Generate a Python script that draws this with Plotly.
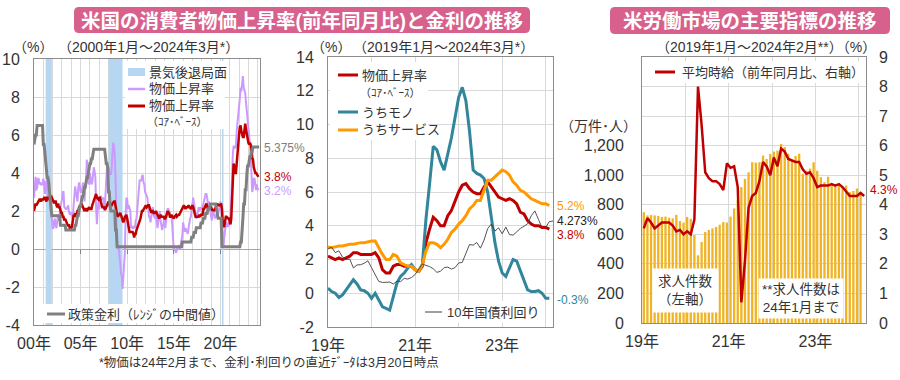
import plotly.graph_objects as go

# ------------------------------------------------------------------ data
# Panel 1: monthly, 2000-01 .. 2024-02 (YoY %)
cpi_headline = [
    2.7, 3.2, 3.8, 3.1, 3.2, 3.7, 3.7, 3.4, 3.5, 3.4, 3.4, 3.4,
    3.7, 3.5, 2.9, 3.3, 3.6, 3.2, 2.7, 2.7, 2.6, 2.1, 1.9, 1.6,
    1.1, 1.1, 1.5, 1.6, 1.2, 1.1, 1.5, 1.8, 1.5, 2.0, 2.2, 2.4,
    2.6, 3.0, 3.0, 2.2, 2.1, 2.1, 2.1, 2.2, 2.3, 2.0, 1.8, 1.9,
    1.9, 1.7, 1.7, 2.3, 3.1, 3.3, 3.0, 2.7, 2.5, 3.2, 3.5, 3.3,
    3.0, 3.0, 3.1, 3.5, 2.8, 2.5, 3.2, 3.6, 4.7, 4.3, 3.5, 3.4,
    4.0, 3.6, 3.4, 3.5, 4.2, 4.3, 4.1, 3.8, 2.1, 1.3, 2.0, 2.5,
    2.1, 2.4, 2.8, 2.6, 2.7, 2.7, 2.4, 2.0, 2.8, 3.5, 4.3, 4.1,
    4.3, 4.0, 4.0, 3.9, 4.2, 5.0, 5.6, 5.4, 4.9, 3.7, 1.1, 0.1,
    0.0, 0.2, -0.4, -0.7, -1.3, -1.4, -2.1, -1.5, -1.3, -0.2, 1.8, 2.7,
    2.6, 2.1, 2.3, 2.2, 2.0, 1.1, 1.2, 1.1, 1.1, 1.2, 1.1, 1.5,
    1.6, 2.1, 2.7, 3.2, 3.6, 3.6, 3.6, 3.8, 3.9, 3.5, 3.4, 3.0,
    2.9, 2.9, 2.7, 2.3, 1.7, 1.7, 1.4, 1.7, 2.0, 2.2, 1.8, 1.7,
    1.6, 2.0, 1.5, 1.1, 1.4, 1.8, 2.0, 1.5, 1.2, 1.0, 1.2, 1.5,
    1.6, 1.1, 1.5, 2.0, 2.1, 2.1, 2.0, 1.7, 1.7, 1.7, 1.3, 0.8,
    -0.1, 0.0, -0.1, -0.2, 0.0, 0.1, 0.2, 0.2, 0.0, 0.2, 0.5, 0.7,
    1.4, 1.0, 0.9, 1.1, 1.0, 1.0, 0.8, 1.1, 1.5, 1.6, 1.7, 2.1,
    2.5, 2.7, 2.4, 2.2, 1.9, 1.6, 1.7, 1.9, 2.2, 2.0, 2.2, 2.1,
    2.1, 2.2, 2.4, 2.5, 2.8, 2.9, 2.9, 2.7, 2.3, 2.5, 2.2, 1.9,
    1.6, 1.5, 1.9, 2.0, 1.8, 1.6, 1.8, 1.7, 1.7, 1.8, 2.1, 2.3,
    2.5, 2.3, 1.5, 0.3, 0.1, 0.6, 1.0, 1.3, 1.4, 1.2, 1.2, 1.4,
    1.4, 1.7, 2.6, 4.2, 5.0, 5.4, 5.4, 5.3, 5.4, 6.2, 6.8, 7.0,
    7.5, 7.9, 8.5, 8.3, 8.6, 9.1, 8.5, 8.3, 8.2, 7.7, 7.1, 6.5,
    6.4, 6.0, 5.0, 4.9, 4.0, 3.0, 3.2, 3.7, 3.7, 3.2, 3.1, 3.4,
    3.1, 3.2,
]
cpi_core = [
    2.0, 2.2, 2.4, 2.3, 2.4, 2.5, 2.5, 2.6, 2.6, 2.5, 2.6, 2.6,
    2.6, 2.7, 2.7, 2.6, 2.5, 2.7, 2.7, 2.7, 2.6, 2.6, 2.8, 2.7,
    2.6, 2.6, 2.4, 2.5, 2.5, 2.3, 2.2, 2.4, 2.2, 2.2, 2.0, 1.9,
    1.9, 1.7, 1.7, 1.5, 1.6, 1.5, 1.5, 1.3, 1.2, 1.3, 1.1, 1.1,
    1.1, 1.2, 1.6, 1.8, 1.7, 1.9, 1.8, 1.7, 2.0, 2.0, 2.2, 2.2,
    2.3, 2.4, 2.3, 2.2, 2.2, 2.0, 2.1, 2.1, 2.0, 2.1, 2.1, 2.2,
    2.1, 2.1, 2.1, 2.3, 2.4, 2.6, 2.7, 2.8, 2.9, 2.7, 2.6, 2.6,
    2.7, 2.7, 2.5, 2.3, 2.2, 2.2, 2.2, 2.1, 2.1, 2.2, 2.3, 2.4,
    2.5, 2.3, 2.4, 2.3, 2.3, 2.4, 2.5, 2.5, 2.5, 2.2, 2.0, 1.8,
    1.7, 1.8, 1.8, 1.9, 1.8, 1.7, 1.5, 1.4, 1.5, 1.7, 1.7, 1.8,
    1.6, 1.3, 1.1, 0.9, 0.9, 0.9, 0.9, 0.9, 0.8, 0.6, 0.8, 0.8,
    1.0, 1.1, 1.2, 1.3, 1.5, 1.6, 1.8, 2.0, 2.0, 2.1, 2.2, 2.2,
    2.3, 2.2, 2.3, 2.3, 2.3, 2.2, 2.1, 1.9, 2.0, 2.0, 1.9, 1.9,
    1.9, 2.0, 1.9, 1.7, 1.7, 1.6, 1.7, 1.8, 1.7, 1.7, 1.7, 1.7,
    1.6, 1.6, 1.7, 1.8, 2.0, 1.9, 1.9, 1.7, 1.7, 1.8, 1.7, 1.6,
    1.6, 1.7, 1.8, 1.8, 1.7, 1.8, 1.8, 1.8, 1.9, 1.9, 2.0, 2.1,
    2.2, 2.3, 2.2, 2.1, 2.2, 2.2, 2.2, 2.3, 2.2, 2.1, 2.1, 2.2,
    2.3, 2.2, 2.0, 1.9, 1.7, 1.7, 1.7, 1.7, 1.7, 1.8, 1.7, 1.8,
    1.8, 1.8, 2.1, 2.1, 2.2, 2.3, 2.4, 2.2, 2.2, 2.1, 2.2, 2.2,
    2.2, 2.1, 2.0, 2.1, 2.0, 2.1, 2.2, 2.4, 2.4, 2.3, 2.3, 2.3,
    2.3, 2.4, 2.1, 1.4, 1.2, 1.2, 1.6, 1.7, 1.7, 1.6, 1.6, 1.6,
    1.4, 1.3, 1.6, 3.0, 3.8, 4.5, 4.3, 4.0, 4.0, 4.6, 4.9, 5.5,
    6.0, 6.4, 6.5, 6.2, 6.0, 5.9, 5.9, 6.3, 6.6, 6.3, 6.0, 5.7,
    5.6, 5.5, 5.6, 5.5, 5.3, 4.8, 4.7, 4.3, 4.1, 4.0, 4.0, 3.9,
    3.9, 3.8,
]
# policy rate (mid-point of target range), vertices of the monthly series
policy_months = [
    "2000-01", "2000-02", "2000-03", "2000-04", "2000-05", "2000-12", "2001-01", "2001-02",
    "2001-03", "2001-04", "2001-05", "2001-06", "2001-07", "2001-08", "2001-09", "2001-10",
    "2001-11", "2001-12", "2002-10", "2002-11", "2003-05", "2003-06", "2004-05", "2004-06",
    "2004-07", "2004-08", "2004-09", "2004-10", "2004-11", "2004-12", "2005-01", "2005-02",
    "2005-03", "2005-04", "2005-05", "2005-06", "2005-07", "2005-08", "2005-09", "2005-10",
    "2005-11", "2005-12", "2006-01", "2006-02", "2006-03", "2006-04", "2006-05", "2006-06",
    "2007-08", "2007-09", "2007-10", "2007-11", "2007-12", "2008-01", "2008-02", "2008-03",
    "2008-04", "2008-09", "2008-10", "2008-11", "2008-12", "2015-11", "2015-12", "2016-11",
    "2016-12", "2017-02", "2017-03", "2017-05", "2017-06", "2017-11", "2017-12", "2018-02",
    "2018-03", "2018-05", "2018-06", "2018-08", "2018-09", "2018-11", "2018-12", "2019-07",
    "2019-08", "2019-09", "2019-10", "2020-02", "2020-03", "2022-02", "2022-03", "2022-04",
    "2022-05", "2022-06", "2022-07", "2022-08", "2022-09", "2022-10", "2022-11", "2022-12",
    "2023-01", "2023-02", "2023-03", "2023-04", "2023-05", "2023-06", "2023-07", "2024-03",
]
policy_rate = [
    5.5, 5.75, 6.0, 6.0, 6.5, 6.5, 5.5, 5.5,
    5.0, 4.5, 4.0, 3.75, 3.75, 3.5, 3.0, 2.5,
    2.0, 1.75, 1.75, 1.25, 1.25, 1.0, 1.0, 1.25,
    1.25, 1.5, 1.75, 1.75, 2.0, 2.25, 2.25, 2.5,
    2.75, 2.75, 3.0, 3.25, 3.25, 3.5, 3.75, 3.75,
    4.0, 4.25, 4.5, 4.5, 4.75, 4.75, 5.0, 5.25,
    5.25, 4.75, 4.5, 4.5, 4.25, 3.0, 3.0, 2.25,
    2.0, 2.0, 1.0, 1.0, 0.125, 0.125, 0.375, 0.375,
    0.625, 0.625, 0.875, 0.875, 1.125, 1.125, 1.375, 1.375,
    1.625, 1.625, 1.875, 1.875, 2.125, 2.125, 2.375, 2.375,
    2.125, 1.875, 1.625, 1.625, 0.125, 0.125, 0.375, 0.375,
    0.875, 1.625, 2.375, 2.375, 3.125, 3.125, 3.875, 4.375,
    4.375, 4.625, 4.875, 4.875, 5.125, 5.125, 5.375, 5.375,
]
recession_start = ["2001-04", "2008-01", "2020-03"]
recession_end = ["2001-11", "2009-06", "2020-04"]

# Panel 2: monthly, 2019-01 .. 2024-02 (yield to 2024-03)
goods = [
    0.3, 0.1, 0.0, -0.25, -0.1, 0.2, 0.5, 0.8, 0.55, 0.2, 0.15, 0.0,
    -0.3, 0.0, -0.4, -0.8, -0.9, -1.0, -0.2, 0.6, 1.0, 1.2, 1.5, 1.7,
    1.4, 1.3, 1.7, 4.4, 6.5, 8.7, 8.5, 7.8, 7.3, 8.2, 9.2, 10.4,
    11.6, 12.2, 11.4, 9.6, 7.3, 7.1, 7.0, 6.8, 6.0, 4.5, 3.0, 1.9,
    1.2, 1.0, 1.5, 2.0, 1.9, 1.3, 0.7, 0.2, 0.1, 0.1, 0.15, 0.0,
    -0.3, -0.3,
]
services = [
    2.75, 2.7, 2.75, 2.8, 2.8, 2.85, 2.9, 2.9, 2.95, 3.0, 3.0, 3.05,
    3.1, 3.1, 2.7, 2.3, 2.0, 2.0, 2.3, 2.2, 1.8, 1.7, 1.6, 1.6,
    1.4, 1.3, 1.7, 2.5, 3.0, 3.0, 2.9, 2.7, 2.9, 3.2, 3.6, 3.8,
    4.1, 4.3, 4.6, 5.0, 5.2, 5.5, 5.5, 6.1, 6.7, 6.7, 6.9, 7.1,
    7.3, 7.2, 7.0, 6.6, 6.4, 6.1, 6.0, 5.8, 5.6, 5.5, 5.4, 5.3,
    5.3, 5.2,
]
yield10 = [
    2.63, 2.73, 2.41, 2.51, 2.14, 2.00, 2.02, 1.50, 1.68, 1.69, 1.78, 1.92,
    1.51, 1.13, 0.70, 0.64, 0.65, 0.66, 0.55, 0.72, 0.69, 0.88, 0.84, 0.93,
    1.11, 1.44, 1.74, 1.65, 1.58, 1.45, 1.24, 1.30, 1.52, 1.55, 1.43, 1.52,
    1.79, 1.83, 2.32, 2.89, 2.85, 3.01, 2.67, 3.15, 3.83, 4.10, 3.68, 3.88,
    3.52, 3.92, 3.48, 3.44, 3.64, 3.84, 3.97, 4.11, 4.59, 4.88, 4.37, 3.88,
    3.91, 4.25, 4.273,
]

# Panel 3: job openings (10k), 2019-01 .. 2024-01 ; hourly earnings YoY %, 2019-01 .. 2024-02
openings = [
    750, 728, 730, 728, 725, 718, 720, 712, 708, 732, 690, 680,
    718, 705, 595, 458, 548, 616, 630, 640, 650, 665, 683, 680,
    720, 775, 830, 920, 975, 1020, 1088, 1085, 1088, 1133, 1110, 1144,
    1160, 1167, 1212, 1190, 1145, 1100, 1130, 1145, 1010, 1030, 1045, 1088,
    1030, 987, 953, 990, 942, 920, 930, 920, 930, 886, 893, 910,
    886,
]
hourly_wage = [
    3.2, 3.55, 3.4, 3.2, 3.3, 3.4, 3.4, 3.4, 3.3, 3.1, 3.15, 3.0,
    3.1, 3.0, 3.5, 8.0, 6.7, 5.1, 4.9, 4.8, 4.8, 4.7, 4.5, 5.4,
    5.25, 5.3, 4.6, 0.7, 2.1, 3.9, 4.3, 4.4, 4.8, 5.45, 5.3, 5.0,
    5.6, 5.3, 5.9, 5.8, 5.55, 5.5, 5.45, 5.45, 5.2, 5.05, 5.1, 4.9,
    4.6, 4.65, 4.65, 4.65, 4.7, 4.65, 4.7, 4.6, 4.45, 4.3, 4.3, 4.3,
    4.4, 4.3,
]

# tick labels
p1_years = list(range(2000, 2025))
p1_ticktext = [("%02d年" % (y % 100)) if y % 5 == 0 else "" for y in p1_years]
p23_years = list(range(2019, 2025))
p23_ticktext = [("%02d年" % (y % 100)) if y % 2 == 1 else "" for y in p23_years]

# ------------------------------------------------------------------ style
W, H = 900, 380
FONT = "Liberation Sans, Arial, Noto Sans CJK JP, sans-serif"
TXT = "#333333"
GRID = "#D9D9D9"
FRAME = "#8C8C8C"
LAV = "#CC99FF"
RED = "#C00000"
GRAY = "#808080"
SHADE = "#B7D6F1"
TEAL = "#31869B"
ORANGE = "#FF9900"
THIN = "#404040"
GOLD = "#F0B323"
PINK = "#D8608C"


def px_x(px):
    return px / W


def px_y(py):
    return 1 - py / H


def ym(s):
    y, m = s.split("-")
    return int(y) + (int(m) - 1) / 12


P1_YR = [-4, 10]
P2_YR = [-2, 14]
P3_YL = [0, 1800]
P3_YR = [0, 9]
P1_XR = [2000, 2000 + len(cpi_headline) / 12 + 1 / 12]
P2_XR = [2019, 2019 + (len(yield10) - 1) / 12]
P3_XR = [2019, 2019 + (len(yield10) - 1) / 12]

fig = go.Figure()

# ------------------------------------------------------------------ panel 1
x1 = [2000 + i / 12 for i in range(len(cpi_headline))]
rx0 = [ym(s) for s in recession_start]
rx1 = [ym(s) + 1 / 12 for s in recession_end]
fig.add_trace(go.Bar(
    x=[(a + b) / 2 for a, b in zip(rx0, rx1)],
    y=[P1_YR[1] - P1_YR[0]] * len(rx0), base=P1_YR[0],
    width=[b - a for a, b in zip(rx0, rx1)], name="景気後退局面",
    marker=dict(color=SHADE, line=dict(width=0)),
    xaxis="x", yaxis="y", showlegend=False, hoverinfo="skip"))
fig.add_trace(go.Scatter(x=x1, y=cpi_headline, mode="lines", name="物価上昇率",
                         line=dict(color=LAV, width=2), xaxis="x", yaxis="y", showlegend=False))
fig.add_trace(go.Scatter(x=x1, y=cpi_core, mode="lines", name="物価上昇率（ｺｱ･ﾍﾞｰｽ）",
                         line=dict(color=RED, width=2.5), xaxis="x", yaxis="y", showlegend=False))
fig.add_trace(go.Scatter(x=[ym(s) for s in policy_months], y=policy_rate, mode="lines",
                         name="政策金利（ﾚﾝｼﾞの中間値）",
                         line=dict(color=GRAY, width=3), xaxis="x", yaxis="y", showlegend=False))
# invisible anchor for the zero-line axis with small ticks
fig.add_trace(go.Scatter(x=[x1[0]], y=[0], mode="markers", marker=dict(opacity=0),
                         xaxis="x6", yaxis="y", showlegend=False, hoverinfo="skip"))

# ------------------------------------------------------------------ panel 2
x2 = [2019 + i / 12 for i in range(len(goods))]
x2y = [2019 + i / 12 for i in range(len(yield10))]
i2019 = (2019 - 2000) * 12
core_p2 = cpi_core[i2019:]
fig.add_trace(go.Scatter(x=x2, y=core_p2, mode="lines", name="物価上昇率（ｺｱ･ﾍﾞｰｽ）",
                         line=dict(color=RED, width=3), xaxis="x2", yaxis="y2", showlegend=False))
fig.add_trace(go.Scatter(x=x2, y=goods, mode="lines", name="うちモノ",
                         line=dict(color=TEAL, width=3), xaxis="x2", yaxis="y2", showlegend=False))
fig.add_trace(go.Scatter(x=x2, y=services, mode="lines", name="うちサービス",
                         line=dict(color=ORANGE, width=3), xaxis="x2", yaxis="y2", showlegend=False))
fig.add_trace(go.Scatter(x=x2y, y=yield10, mode="lines", name="10年国債利回り",
                         line=dict(color=THIN, width=0.9), xaxis="x2", yaxis="y2", showlegend=False))

# ------------------------------------------------------------------ panel 3
x3b = [2019 + (i + 0.5) / 12 for i in range(len(openings))]
x3l = [2019 + (i + 0.5) / 12 for i in range(len(hourly_wage))]
fig.add_trace(go.Bar(x=x3b, y=openings, width=0.64 / 12, marker=dict(color=GOLD, line=dict(width=0)),
                     xaxis="x3", yaxis="y3", showlegend=False, name="求人件数"))
fig.add_trace(go.Scatter(x=x3l, y=hourly_wage, mode="lines", name="平均時給（前年同月比、右軸）",
                         line=dict(color=RED, width=2.5), xaxis="x3", yaxis="y4", showlegend=False))

# ------------------------------------------------------------------ axes
tickfont = dict(family=FONT, size=16, color=TXT)
common_x = dict(showline=True, mirror=True, linecolor=FRAME, linewidth=1, ticks="",
                showgrid=True, gridcolor=GRID, gridwidth=1, zeroline=False,
                tickfont=tickfont, tickmode="array", ticklabelstandoff=4)
common_y = dict(showline=True, mirror=True, linecolor=FRAME, linewidth=1, ticks="",
                showgrid=True, gridcolor=GRID, gridwidth=1, tickfont=tickfont,
                tickmode="array", ticklabelstandoff=10)

p1_yvals = list(range(P1_YR[0], P1_YR[1] + 1, 2))
p2_yvals = list(range(P2_YR[0], P2_YR[1] + 1, 2))
p3_lvals = list(range(P3_YL[0], P3_YL[1] + 1, 200))
p3_ltext = [("{:,}".format(v) if v <= 1200 else "") for v in p3_lvals]
p3_rvals = list(range(P3_YR[0], P3_YR[1] + 1))

P1_DOM_Y = [px_y(325), px_y(59)]
zero_pos = P1_DOM_Y[0] + (0 - P1_YR[0]) / (P1_YR[1] - P1_YR[0]) * (P1_DOM_Y[1] - P1_DOM_Y[0])

fig.update_layout(
    xaxis=dict(common_x, domain=[px_x(34), px_x(260)], range=P1_XR, anchor="y",
               tickvals=p1_years, ticktext=p1_ticktext),
    yaxis=dict(common_y, domain=P1_DOM_Y, range=P1_YR, anchor="x",
               tickvals=p1_yvals, ticktext=[str(v) for v in p1_yvals],
               zeroline=True, zerolinecolor="#A6A6A6", zerolinewidth=1),
    xaxis6=dict(overlaying="x", anchor="free", position=zero_pos, range=P1_XR,
                showline=False, showgrid=False, zeroline=False, showticklabels=False,
                ticks="outside", ticklen=4, tickcolor="#808080", tickmode="array",
                tickvals=[2005, 2010, 2015, 2020]),
    xaxis2=dict(common_x, domain=[px_x(328), px_x(553)], range=P2_XR, anchor="y2",
                tickvals=p23_years, ticktext=p23_ticktext),
    yaxis2=dict(common_y, domain=[px_y(327), px_y(57)], range=P2_YR, anchor="x2",
                tickvals=p2_yvals, ticktext=[str(v) for v in p2_yvals], zeroline=False),
    xaxis3=dict(common_x, domain=[px_x(642), px_x(866)], range=P3_XR, anchor="y3",
                tickvals=p23_years, ticktext=p23_ticktext),
    yaxis3=dict(common_y, domain=[px_y(323), px_y(57)], range=P3_YL, anchor="x3",
                tickvals=p3_lvals, ticktext=p3_ltext, zeroline=False, ticklabelstandoff=14),
    yaxis4=dict(overlaying="y3", side="right", anchor="x3", range=P3_YR, showgrid=False,
                zeroline=False, showline=False, ticks="", tickfont=tickfont, tickmode="array",
                tickvals=p3_rvals, ticktext=[str(v) for v in p3_rvals], ticklabelstandoff=12),
)

# ------------------------------------------------------------------ annotations / legend keys
ann = []
shapes = []


def add_text(text, x, y, size=14, color=TXT, xanchor="center", yanchor="middle", **kw):
    ann.append(dict(text=text, x=px_x(x), y=px_y(y), xref="paper", yref="paper", showarrow=False,
                    font=dict(family=FONT, size=size, color=color),
                    xanchor=xanchor, yanchor=yanchor, **kw))


def white_box(x0, y0, x1, y1):
    shapes.append(dict(type="rect", x0=px_x(x0), x1=px_x(x1), y0=px_y(y1), y1=px_y(y0),
                       xref="paper", yref="paper", fillcolor="white", line=dict(width=0),
                       layer="above"))


def key_line(x0, x1, y, color, width):
    shapes.append(dict(type="line", x0=px_x(x0), x1=px_x(x1), y0=px_y(y), y1=px_y(y),
                       xref="paper", yref="paper", line=dict(color=color, width=width),
                       layer="above"))


def rounded(x0, y0, x1, y1, r):
    X = lambda v: px_x(v)
    Y = lambda v: px_y(v)
    return (f"M {X(x0 + r)},{Y(y0)} L {X(x1 - r)},{Y(y0)} Q {X(x1)},{Y(y0)} {X(x1)},{Y(y0 + r)} "
            f"L {X(x1)},{Y(y1 - r)} Q {X(x1)},{Y(y1)} {X(x1 - r)},{Y(y1)} "
            f"L {X(x0 + r)},{Y(y1)} Q {X(x0)},{Y(y1)} {X(x0)},{Y(y1 - r)} "
            f"L {X(x0)},{Y(y0 + r)} Q {X(x0)},{Y(y0)} {X(x0 + r)},{Y(y0)} Z")


# banners
for (bx0, by0, bx1, by1) in [(74, 7, 530, 33), (610, 7, 890, 34)]:
    shapes.append(dict(type="path", path=rounded(bx0, by0, bx1, by1, 5), xref="paper", yref="paper",
                       fillcolor=PINK, line=dict(width=0), layer="above"))
add_text("<b>米国の消費者物価上昇率(前年同月比)と金利の推移</b>", 302, 20.5, size=19.5, color="white")
add_text("<b>米労働市場の主要指標の推移</b>", 750, 20.5, size=19.5, color="white")

# legend of panel 1 (top)
LEG = 13
white_box(125, 61, 225, 129)
shapes.append(dict(type="rect", x0=px_x(128), x1=px_x(145), y0=px_y(76), y1=px_y(68),
                   xref="paper", yref="paper", fillcolor=SHADE, line=dict(width=0), layer="above"))
add_text("景気後退局面", 147, 72, size=LEG, xanchor="left")
key_line(128, 145, 89, LAV, 2.5)
add_text("物価上昇率", 147, 89, size=LEG, xanchor="left")
key_line(128, 145, 106, RED, 3)
add_text("物価上昇率", 147, 106, size=LEG, xanchor="left")
add_text("（ｺｱ･ﾍﾞｰｽ）", 145, 122, size=11, xanchor="left")
# legend of panel 1 (bottom)
white_box(42, 304, 207, 323)
key_line(47, 65, 314, GRAY, 3)
add_text("政策金利（ﾚﾝｼﾞの中間値）", 66, 314, size=LEG, xanchor="left")
# legend of panel 2 (top)
white_box(330, 62, 428, 140)
key_line(338, 358, 75, RED, 3)
add_text("物価上昇率", 360, 75, size=LEG, xanchor="left")
add_text("（ｺｱ･ﾍﾞｰｽ）", 358, 93, size=11, xanchor="left")
key_line(338, 358, 112, TEAL, 3)
add_text("うちモノ", 360, 112, size=LEG, xanchor="left")
key_line(338, 358, 130, ORANGE, 3)
add_text("うちサービス", 360, 130, size=LEG, xanchor="left")
# legend of panel 2 (bottom)
white_box(420, 301, 545, 323)
key_line(425, 442, 312, THIN, 1)
add_text("10年国債利回り", 445, 312, size=LEG, xanchor="left")
# legend of panel 3
white_box(645, 61, 862, 83)
key_line(655, 675, 72, RED, 3)
add_text("平均時給（前年同月比、右軸）", 680, 72, size=LEG, xanchor="left")

# units / periods
add_text("（%）", 33, 47, size=14)
add_text("（2000年1月～2024年3月*）", 56, 47, size=14, xanchor="left")
add_text("（%）", 331, 47, size=14)
add_text("（2019年1月～2024年3月*）", 351, 47, size=14, xanchor="left")
add_text("（2019年1月～2024年2月**）（%）", 878, 47, size=14, xanchor="right")
add_text("（万件･人）", 639, 126, size=14, xanchor="right")
add_text("*物価は24年2月まで、金利･利回りの直近ﾃﾞｰﾀは3月20日時点", 97, 362,
         size=12.5, xanchor="left")

# boxed notes in panel 3
add_text("求人件数<br>（左軸）", 685, 290, size=13.5, bgcolor="white", borderpad=5)
add_text("**求人件数は<br>24年1月まで", 801, 298, size=13.5, bgcolor="white", borderpad=3)


def end_label(text, xref, yref, xr, yv, color, yshift=0):
    ann.append(dict(text=text, x=xr, y=yv, xref=xref, yref=yref, showarrow=False,
                    font=dict(family=FONT, size=12, color=color), xanchor="left",
                    yanchor="middle", xshift=2, yshift=yshift))


end_label("5.375%", "x", "y", P1_XR[1], policy_rate[-1], GRAY, -1)
end_label("3.8%", "x", "y", P1_XR[1], cpi_core[-1], RED)
end_label("3.2%", "x", "y", P1_XR[1], cpi_headline[-1], LAV, -3)
end_label("5.2%", "x2", "y2", P2_XR[1], services[-1], ORANGE)
end_label("4.273%", "x2", "y2", P2_XR[1], yield10[-1], "#222222")
end_label("3.8%", "x2", "y2", P2_XR[1], core_p2[-1], RED, -6)
end_label("-0.3%", "x2", "y2", P2_XR[1], goods[-1], TEAL, -2)
end_label("4.3%", "x3", "y4", P3_XR[1], hourly_wage[-1], RED, 6)

fig.update_layout(
    width=W, height=H, margin=dict(l=0, r=0, t=0, b=0, pad=0, autoexpand=False),
    paper_bgcolor="white", plot_bgcolor="white",
    font=dict(family=FONT, color=TXT), showlegend=False,
    annotations=ann, shapes=shapes, barmode="overlay", hovermode=False,
)

fig.write_html("out.html", config={"displayModeBar": False, "staticPlot": True},
               post_script="document.body.style.margin='0';document.body.style.overflow='hidden';")
